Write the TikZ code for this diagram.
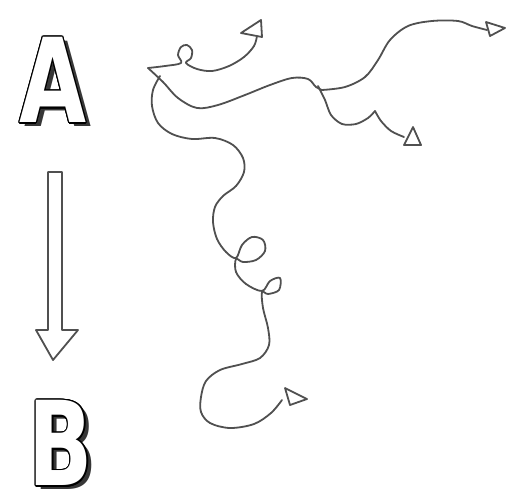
\documentclass[tikz,border=0pt]{standalone}
\usepackage{fontspec}
\usepackage{contour}
\setmainfont{DejaVu Sans}
\usetikzlibrary{arrows.meta}
\definecolor{ink}{RGB}{80,80,80}
\definecolor{shade}{RGB}{55,55,55}
\begin{document}
\begin{tikzpicture}[x=1pt,y=-1pt,
  sketch/.style={draw=ink, line width=1.8pt, line cap=round, line join=round},
  tiptri/.style={draw=ink, line width=1.8pt, fill=white, line join=round},
  letter/.style={inner sep=0pt, font=\bfseries\fontsize{117}{117}\selectfont},
  bigarrow/.style={draw=ink, line width=1.8pt, fill=white, line join=round}]
\useasboundingbox[fill=white] (0,0) rectangle (522,491);

% letters
\node[letter, text=shade] (Ash) at (58,84) {\scalebox{0.74}[1]{A}};
\node[letter] (A) at (53,81) {\contourlength{1.6pt}\scalebox{0.74}[1]{\contour{black}{\textcolor{white}{A}}}};
\node[letter, text=shade] (Bsh) at (66,447) {\scalebox{0.72}[1]{B}};
\node[letter] (B) at (61,444) {\contourlength{1.6pt}\scalebox{0.72}[1]{\contour{black}{\textcolor{white}{B}}}};

% hollow arrow A -> B
\draw[bigarrow] (48,172) -- (62,172) -- (62,330) -- (78,330) -- (53,360) -- (36,330) -- (48,330) -- cycle;

% top small branch with loop
\draw[sketch] plot[smooth, tension=0.55] coordinates {
  (148,68) (165,66) (181,63) (178,55) (181,47) (187,45) (192,50) (191,58) (186,63)
  (197,69) (212,71) (229,66) (244,57) (254,46) (257,36)};
\draw[tiptri] (241,33) -- (261,20) -- (262,37) -- cycle;

% main right path
\draw[sketch] plot[smooth, tension=0.55] coordinates {
  (148,68) (163,82) (178,98) (197,108) (218,105) (245,95) (270,85) (292,78) (308,79) (316,87) (322,90)};
% upper right branch
\draw[sketch] plot[smooth, tension=0.55] coordinates {
  (322,90) (345,87) (365,77) (378,60) (390,40) (408,26) (432,21) (458,21) (472,26) (487,30)};
\draw[tiptri] (486,22) -- (505,28) -- (490,36) -- cycle;
% lower right branch
\draw[sketch] plot[smooth, tension=0.5] coordinates {
  (318,86) (325,100) (331,115) (342,124) (356,124) (368,118) (375,111)};
\draw[sketch] plot[smooth, tension=0.5] coordinates {
  (375,111) (381,121) (391,131) (404,137)};
\draw[tiptri] (413,127) -- (421,145) -- (404,145) -- cycle;

% long downward path
\draw[sketch] plot[smooth, tension=0.55] coordinates {
  (160,76) (153,90) (152,106) (158,123) (172,134) (192,139) (215,138) (233,145) (243,158)
  (244,172) (236,186) (223,196) (215,207) (213,222) (217,239) (226,252) (236,258)
  (242,245) (252,237) (263,240) (265,251) (256,260) (243,262) (236,259)
  (236,272) (246,284) (262,291)
  (270,281) (280,278) (279,290) (268,294) (262,292)
  (263,308) (268,328) (269,345) (260,358) (242,364) (220,370) (206,381) (201,397)
  (201,412) (210,423) (230,428) (254,424) (271,413) (282,400)};
\draw[tiptri] (285,388) -- (307,399) -- (290,405) -- cycle;
\end{tikzpicture}
\end{document}
